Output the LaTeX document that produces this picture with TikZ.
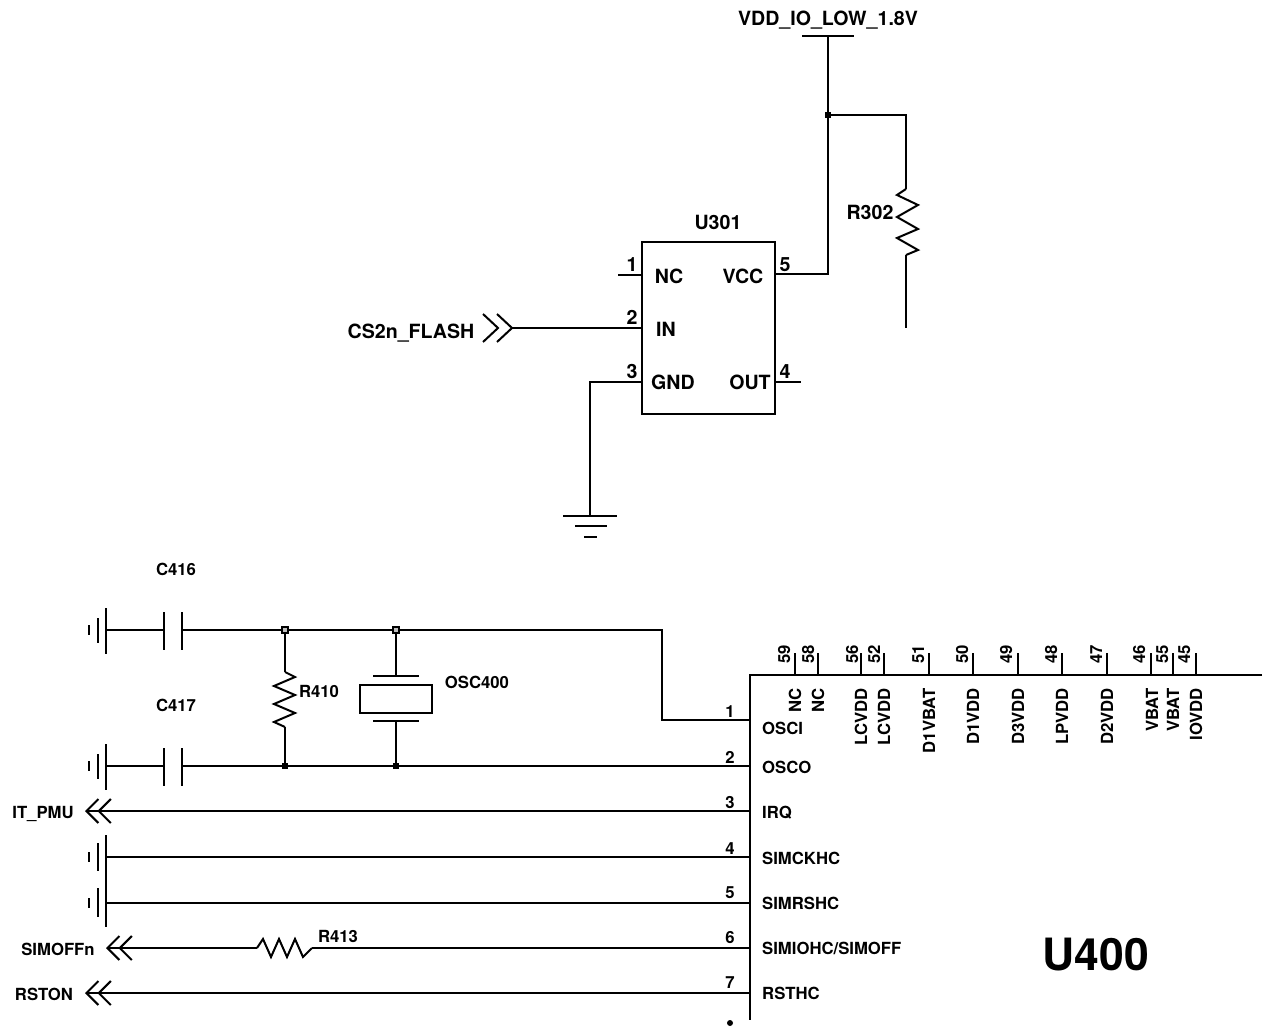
\documentclass[tikz,border=0pt]{standalone}
\usepackage{fontspec}
\setmainfont{TeX Gyre Heros}
\usetikzlibrary{arrows.meta}

\tikzset{
    wire/.style={line width=2pt},
    chevrons/.style={-{Straight Barb[length=12pt,width=24pt,sep=-2pt] Straight Barb[length=12pt,width=24pt]}},
    lab/.style={font=\fontsize{16.7}{18}\selectfont\bfseries, inner sep=0pt, text height=12pt, text depth=0pt},
    biglab/.style={font=\fontsize{19.6}{21}\selectfont\bfseries, inner sep=0pt, text height=14pt, text depth=0pt},
    pinname/.style={lab, anchor=west},
    topname/.style={lab, rotate=90, anchor=east},
    topnum/.style={lab, rotate=90},
    junction/.style={rectangle, fill=black, inner sep=0pt, minimum size=6pt},
    openjunction/.style={rectangle, draw=black, fill=black!25, line width=1.2pt, inner sep=0pt, minimum size=6pt}
}

\begin{document}
\begin{tikzpicture}[x=1pt, y=-1pt]
    \useasboundingbox (0, 0) rectangle (1264, 1030);

    % U301
    \node (vddlabel) at (828, 19) [biglab] {VDD\_IO\_LOW\_1.8V};
    \node (u301label) at (718, 222) [biglab] {U301};
    \node (r302label) at (870, 212) [biglab] {R302};
    \node (cs2nlabel) at (411, 331) [biglab] {CS2n\_FLASH};

    \node (u301nc) at (669, 276) [biglab] {NC};
    \node (u301in) at (666, 329) [biglab] {IN};
    \node (u301gnd) at (673, 382) [biglab] {GND};
    \node (u301vcc) at (743, 276) [biglab] {VCC};
    \node (u301out) at (750, 382) [biglab] {OUT};

    \node (u301p1) at (632, 264) [biglab] {1};
    \node (u301p2) at (632, 317) [biglab] {2};
    \node (u301p3) at (632, 371) [biglab] {3};
    \node (u301p5) at (785, 264) [biglab] {5};
    \node (u301p4) at (785, 371) [biglab] {4};

    \coordinate (boxtl) at (642, 242);
    \coordinate (boxbr) at (775, 414);
    \draw[wire] (boxtl) rectangle (boxbr);

    \coordinate (vddbar) at (828, 36);
    \coordinate (pin5) at (775, 274);
    \coordinate (pin4) at (775, 382);
    \coordinate (pin4end) at (801, 382);
    \coordinate (pin1) at (642, 275);
    \coordinate (pin1end) at (618, 275);
    \coordinate (pin2) at (642, 328);
    \coordinate (pin3) at (642, 382);
    \coordinate (gndtop) at (590, 516);
    \coordinate (r302top) at (906, 189);
    \coordinate (r302bot) at (906, 255);
    \coordinate (r302end) at (906, 328);

    \node (vddjoin) at (828, 115) [junction] {};

    \draw[wire] (vddbar) ++(-26, 0) -- ++(52, 0);
    \draw[wire] (vddbar) -- (vddjoin);
    \draw[wire] (vddjoin) |- (pin5);
    \draw[wire] (vddjoin) -| (r302top);
    \draw[wire] (r302top) -- ++(-9, 6) -- ++(21, 10) -- ++(-21, 12) -- ++(21, 12) -- ++(-21, 9) -- ++(21, 12) -- (r302bot);
    \draw[wire] (r302bot) -- (r302end);
    \draw[wire] (pin1) -- (pin1end);
    \draw[wire] (pin4) -- (pin4end);
    \draw[wire] (pin3) -| (gndtop);
    \draw[wire] (gndtop) ++(-27, 0) -- ++(54, 0);
    \draw[wire] (gndtop) ++(-15, 9.5) -- ++(32, 0);
    \draw[wire] (gndtop) ++(-6, 21) -- ++(13, 0);

    \coordinate (cs2ntip) at (512, 328);
    \draw[wire] (pin2) -- (cs2ntip);
    \draw[wire] (483, 314) -- (498, 328) -- (483, 342);
    \draw[wire] (497, 314) -- (512, 328) -- (497, 342);

    % U400 pins on the left
    \node (osci) at (762, 728) [pinname] {OSCI};
    \node (osco) at (762, 767) [pinname] {OSCO};
    \node (irq) at (762, 812) [pinname] {IRQ};
    \node (simckhc) at (762, 858) [pinname] {SIMCKHC};
    \node (simrshc) at (762, 903) [pinname] {SIMRSHC};
    \node (simiohc) at (762, 948) [pinname] {SIMIOHC/SIMOFF};
    \node (rsthc) at (762, 993) [pinname] {RSTHC};

    \node (p1) at (730, 711) [lab] {1};
    \node (p2) at (730, 757) [lab] {2};
    \node (p3) at (730, 802) [lab] {3};
    \node (p4) at (730, 848) [lab] {4};
    \node (p5) at (730, 892) [lab] {5};
    \node (p6) at (730, 937) [lab] {6};
    \node (p7) at (730, 982) [lab] {7};

    \node (u400label) at (1096, 955) [font=\fontsize{44.5}{46}\selectfont\bfseries, inner sep=0pt] {U400};
    \node (u400dot) at (730, 1023) [circle, fill=black, inner sep=0pt, minimum size=6pt] {};

    % U400 outline
    \coordinate (corner) at (750, 675);
    \coordinate (cornerright) at (1262, 675);
    \coordinate (cornerdown) at (750, 1020);
    \draw[wire] (cornerright) -- (corner) -- (cornerdown);

    % U400 pins on top
    \coordinate (t59) at (795, 675);
    \coordinate (t58) at (818, 675);
    \coordinate (t56) at (861, 675);
    \coordinate (t52) at (884, 675);
    \coordinate (t51) at (929, 675);
    \coordinate (t50) at (973, 675);
    \coordinate (t49) at (1018, 675);
    \coordinate (t48) at (1062, 675);
    \coordinate (t47) at (1107, 675);
    \coordinate (t46) at (1151, 675);
    \coordinate (t55) at (1173, 675);
    \coordinate (t45) at (1196, 675);

    \draw[wire] (t59) -- ++(0, -22);
    \draw[wire] (t58) -- ++(0, -22);
    \draw[wire] (t56) -- ++(0, -22);
    \draw[wire] (t52) -- ++(0, -22);
    \draw[wire] (t51) -- ++(0, -22);
    \draw[wire] (t50) -- ++(0, -22);
    \draw[wire] (t49) -- ++(0, -22);
    \draw[wire] (t48) -- ++(0, -22);
    \draw[wire] (t47) -- ++(0, -22);
    \draw[wire] (t46) -- ++(0, -22);
    \draw[wire] (t55) -- ++(0, -22);
    \draw[wire] (t45) -- ++(0, -22);

    \node (n59) at (784, 654) [topnum] {59};
    \node (n58) at (808, 654) [topnum] {58};
    \node (n56) at (852, 654) [topnum] {56};
    \node (n52) at (874, 654) [topnum] {52};
    \node (n51) at (918, 654) [topnum] {51};
    \node (n50) at (962, 654) [topnum] {50};
    \node (n49) at (1006, 654) [topnum] {49};
    \node (n48) at (1051, 654) [topnum] {48};
    \node (n47) at (1096, 654) [topnum] {47};
    \node (n46) at (1139, 654) [topnum] {46};
    \node (n55) at (1162, 654) [topnum] {55};
    \node (n45) at (1184, 654) [topnum] {45};

    \node (nc1) at (795, 688) [topname] {NC};
    \node (nc2) at (818, 688) [topname] {NC};
    \node (lcvdd1) at (861, 688) [topname] {LCVDD};
    \node (lcvdd2) at (884, 688) [topname] {LCVDD};
    \node (d1vbat) at (929, 688) [topname] {D1VBAT};
    \node (d1vdd) at (973, 688) [topname] {D1VDD};
    \node (d3vdd) at (1018, 688) [topname] {D3VDD};
    \node (lpvdd) at (1062, 688) [topname] {LPVDD};
    \node (d2vdd) at (1107, 688) [topname] {D2VDD};
    \node (vbat1) at (1152, 688) [topname] {VBAT};
    \node (vbat2) at (1173, 688) [topname] {VBAT};
    \node (iovdd) at (1196, 688) [topname] {IOVDD};

    % oscillator part
    \node (c416label) at (176, 569) [lab] {C416};
    \node (c417label) at (176, 705) [lab] {C417};
    \node (r410label) at (319, 691) [lab] {R410};
    \node (osclabel) at (477, 682) [lab] {OSC400};
    \node (r413label) at (338, 936) [lab] {R413};

    \node (topa) at (285, 630) [openjunction] {};
    \node (topb) at (396, 630) [openjunction] {};
    \node (bota) at (285, 766) [junction] {};
    \node (botb) at (396, 766) [junction] {};

    \coordinate (g416) at (106, 630);
    \coordinate (g417) at (106, 766);
    \coordinate (c416l) at (164, 630);
    \coordinate (c416r) at (182, 630);
    \coordinate (c417l) at (164, 766);
    \coordinate (c417r) at (182, 766);
    \coordinate (oscin) at (750, 720);
    \coordinate (oscout) at (750, 766);

    \draw[wire] (g416) ++(0, -22) -- ++(0, 46);
    \draw[wire] (g416) ++(-8, -12) -- ++(0, 25);
    \draw[wire] (g416) ++(-17, -5) -- ++(0, 10);
    \draw[wire] (g417) ++(0, -22) -- ++(0, 46);
    \draw[wire] (g417) ++(-8, -12) -- ++(0, 25);
    \draw[wire] (g417) ++(-17, -5) -- ++(0, 10);

    \draw[wire] (c416l) ++(0, -18) -- ++(0, 38);
    \draw[wire] (c416r) ++(0, -18) -- ++(0, 38);
    \draw[wire] (c417l) ++(0, -18) -- ++(0, 38);
    \draw[wire] (c417r) ++(0, -18) -- ++(0, 38);

    \draw[wire] (g416) -- (c416l);
    \draw[wire] (c416r) -- (topa);
    \draw[wire] (topa) -- (topb);
    \draw[wire] (topb) -- (662, 630) |- (oscin);
    \draw[wire] (g417) -- (c417l);
    \draw[wire] (c417r) -- (bota);
    \draw[wire] (bota) -- (botb);
    \draw[wire] (botb) -- (oscout);

    \coordinate (r410top) at (285, 672);
    \coordinate (r410bot) at (285, 727);
    \draw[wire] (topa) -- (r410top);
    \draw[wire] (r410top) -- ++(10, 5) -- ++(-21, 9) -- ++(21, 9) -- ++(-21, 9) -- ++(21, 9) -- ++(-21, 9) -- (r410bot);
    \draw[wire] (r410bot) -- (bota);

    \coordinate (xtaltop) at (396, 676);
    \coordinate (xtalbot) at (396, 721);
    \coordinate (xtaltl) at (360, 685);
    \coordinate (xtalbr) at (432, 713);
    \draw[wire] (topb) -- (xtaltop);
    \draw[wire] (xtaltop) ++(-23, 0) -- ++(46, 0);
    \draw[wire] (xtaltl) rectangle (xtalbr);
    \draw[wire] (xtalbot) ++(-23, 0) -- ++(46, 0);
    \draw[wire] (xtalbot) -- (botb);

    % signals
    \node (itpmu) at (43, 812) [lab] {IT\_PMU};
    \node (simoffn) at (58, 949) [lab] {SIMOFFn};
    \node (rston) at (44, 994) [lab] {RSTON};

    \coordinate (irqpin) at (750, 811);
    \coordinate (irqtip) at (85, 811);
    \coordinate (rstpin) at (750, 993);
    \coordinate (rsttip) at (85, 993);
    \coordinate (simoffpin) at (750, 948);
    \coordinate (simofftip) at (106, 948);
    \coordinate (r413l) at (257, 948);
    \coordinate (r413r) at (312, 948);

    \draw[wire, chevrons] (irqpin) -- (irqtip);
    \draw[wire, chevrons] (rstpin) -- (rsttip);
    \draw[wire, chevrons] (r413l) -- (simofftip);
    \draw[wire] (r413l) -- ++(6, -9) -- ++(8, 18) -- ++(8, -18) -- ++(8, 18) -- ++(8, -18) -- ++(8, 18) -- (r413r);
    \draw[wire] (r413r) -- (simoffpin);

    \coordinate (g4) at (106, 857);
    \coordinate (g5) at (106, 903);
    \coordinate (simckpin) at (750, 857);
    \coordinate (simrspin) at (750, 903);
    \draw[wire] (g4) -- (simckpin);
    \draw[wire] (g5) -- (simrspin);
    \draw[wire] (g4) ++(0, -22) -- (106, 927);
    \draw[wire] (g4) ++(-8, -14) -- ++(0, 28);
    \draw[wire] (g4) ++(-17, -5) -- ++(0, 10);
    \draw[wire] (g5) ++(-8, -15) -- ++(0, 29);
    \draw[wire] (g5) ++(-17, -5) -- ++(0, 10);
\end{tikzpicture}
\end{document}
